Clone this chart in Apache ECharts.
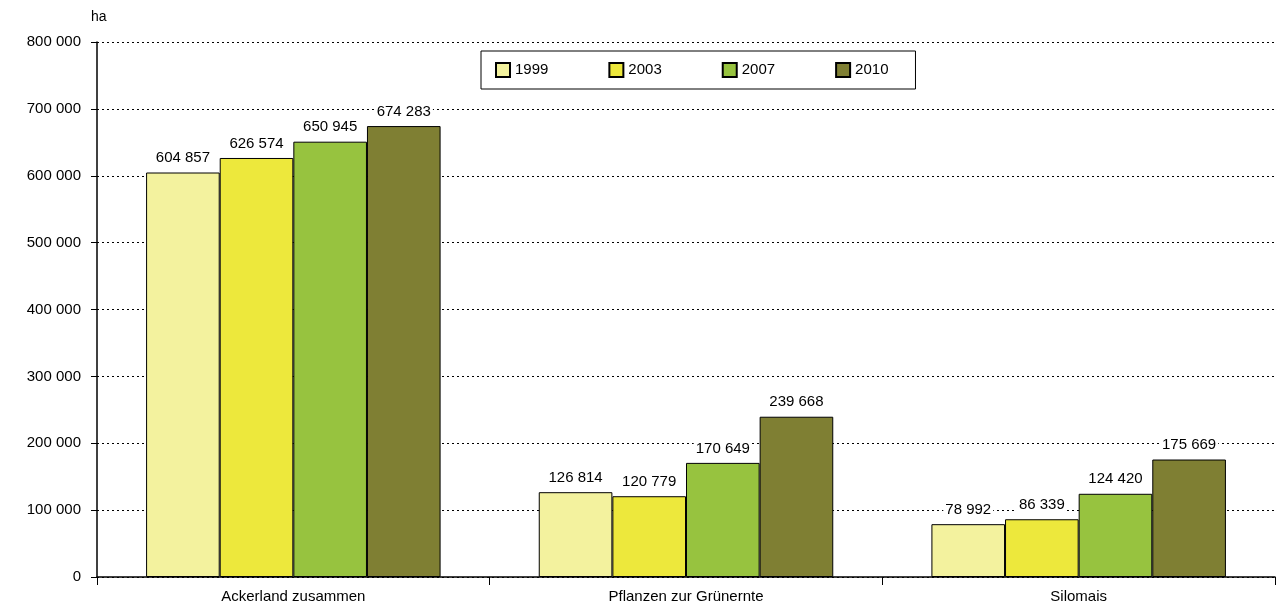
<!DOCTYPE html>
<html style="height: 100%">
<head>
    <meta charset="UTF-8">
    <title>Ackerland</title>
    <script src="https://cdn.jsdelivr.net/npm/echarts/dist/echarts.min.js"></script>
</head>
<body style="height: 100%; margin: 0; background: #fff">
    <div id="main" style="width: 1280px; height: 610px"></div>
    <script type="text/javascript">
        var categories = ['Ackerland zusammen', 'Pflanzen zur Grünernte', 'Silomais'];
        var years = ['1999', '2003', '2007', '2010'];
        var values1999 = [604857, 126814, 78992];
        var values2003 = [626574, 120779, 86339];
        var values2007 = [650945, 170649, 124420];
        var values2010 = [674283, 239668, 175669];
        var colors = ['#f3f29e', '#ede83c', '#97c33f', '#7f7f33'];

        function fmt(v) {
            return String(v).replace(/\B(?=(\d{3})+(?!\d))/g, ' ');
        }

        var myChart = echarts.init(document.getElementById('main'));
        var all = [values1999, values2003, values2007, values2010];
        var series = all.map(function (d, i) {
            return {
                name: years[i],
                type: 'bar',
                data: d,
                barGap: '0%',
                barCategoryGap: '25%',
                itemStyle: { color: colors[i], borderColor: '#000', borderWidth: 1 },
                label: {
                    show: true, position: 'top', distance: 6,
                    color: '#000', fontSize: 15, fontFamily: 'Arial',
                    backgroundColor: '#fff', padding: [1, 2],
                    formatter: function (p) { return fmt(p.value); }
                }
            };
        });

        var option = {
            textStyle: { fontFamily: 'Arial' },
            grid: { left: 97, right: 5, top: 42, bottom: 33 },
            legend: {
                data: years,
                left: 481, top: 51,
                itemGap: 60, padding: [11, 27, 11, 14],
                itemWidth: 14, itemHeight: 14,
                borderColor: '#000', borderWidth: 1,
                textStyle: { color: '#000', fontSize: 15 },
                icon: 'rect'
            },
            xAxis: {
                type: 'category',
                data: categories,
                axisLine: { lineStyle: { color: '#000', width: 1.5 } },
                axisTick: { show: true, length: 8, lineStyle: { color: '#000' } },
                axisLabel: { color: '#000', fontSize: 15, margin: 12 }
            },
            yAxis: {
                type: 'value',
                name: 'ha',
                nameLocation: 'end',
                nameGap: 18,
                nameTextStyle: { color: '#000', fontSize: 14, align: 'left', padding: [0, 0, 0, -6] },
                min: 0, max: 800000, interval: 100000,
                axisLine: { show: true, lineStyle: { color: '#000', width: 1.5 } },
                axisTick: { show: true, length: 6, lineStyle: { color: '#000' } },
                axisLabel: { color: '#000', fontSize: 15, margin: 16, formatter: fmt },
                splitLine: { lineStyle: { color: '#000', type: [2, 3], width: 1 } }
            },
            series: series
        };
        myChart.setOption(option);
    </script>
</body>
</html>
